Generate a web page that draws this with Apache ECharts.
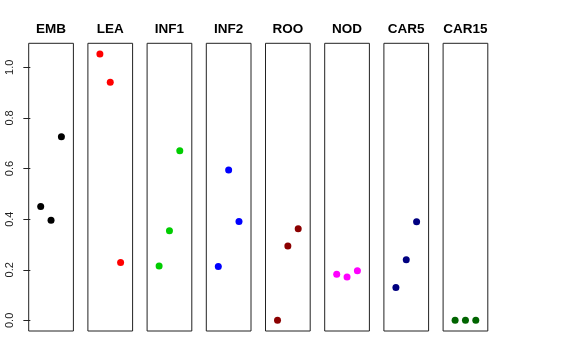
<!DOCTYPE html>
<html>
<head>
<meta charset="utf-8">
<script src="https://cdn.jsdelivr.net/npm/echarts@6/dist/echarts.min.js"></script>
<style>html,body{margin:0;padding:0;background:#fff;}#c{width:576px;height:360px;}</style>
</head>
<body>
<div id="c"></div>
<script>
const panels = ['EMB', 'LEA', 'INF1', 'INF2', 'ROO', 'NOD', 'CAR5', 'CAR15'];
const xPos = [1, 2, 3];
const EMB = [0.450, 0.396, 0.726];
const LEA = [1.053, 0.941, 0.229];
const INF1 = [0.215, 0.354, 0.670];
const INF2 = [0.213, 0.594, 0.391];
const ROO = [0.000, 0.294, 0.362];
const NOD = [0.182, 0.171, 0.196];
const CAR5 = [0.130, 0.240, 0.390];
const CAR15 = [0.000, 0.000, 0.000];
const values = [EMB, LEA, INF1, INF2, ROO, NOD, CAR5, CAR15];
const colors = ['#000000', '#FF0000', '#00CD00', '#0000FF', '#8B0000', '#FF00FF', '#000080', '#006400'];
const yTicks = [0, 0.2, 0.4, 0.6, 0.8, 1.0];

const yMin = -0.042, yMax = 1.095;
const xMin = -0.16, xMax = 4.16;
const gLeft0 = 28.7, gStep = 59.2, gW = 44.7, gTop = 43.3, gH = 287.7;

const grids = [], xAxes = [], yAxes = [], series = [], graphics = [];
panels.forEach((name, i) => {
  const l = gLeft0 + gStep * i;
  grids.push({left: l, top: gTop, width: gW, height: gH, show: true, borderColor: '#222', borderWidth: 1, backgroundColor: 'transparent'});
  xAxes.push({type: 'value', gridIndex: i, min: xMin, max: xMax, show: false});
  yAxes.push({
    type: 'value', gridIndex: i, min: yMin, max: yMax, show: i === 0,
    splitLine: {show: false},
    axisLine: {show: false},
    axisTick: {show: true, length: 7, lineStyle: {color: '#222'}, customValues: yTicks},
    axisLabel: {show: true, rotate: 90, margin: 13, color: '#222', fontSize: 11, fontFamily: 'Liberation Sans',
      customValues: yTicks, formatter: v => v.toFixed(1)}
  });
  series.push({
    type: 'scatter', xAxisIndex: i, yAxisIndex: i,
    data: xPos.map((x, k) => [x, values[i][k]]),
    symbol: 'circle', symbolSize: 7,
    itemStyle: {color: colors[i], opacity: 1},
    silent: true
  });
  graphics.push({
    type: 'text', x: l + gW / 2, y: 29,
    style: {text: name, textAlign: 'center', textVerticalAlign: 'middle', font: 'bold 13.5px "Liberation Sans"', fill: '#000'}
  });
});

const chart = echarts.init(document.getElementById('c'), null, {renderer: 'canvas'});
chart.setOption({
  animation: false,
  grid: grids, xAxis: xAxes, yAxis: yAxes, series: series, graphic: graphics
});
</script>
</body>
</html>
